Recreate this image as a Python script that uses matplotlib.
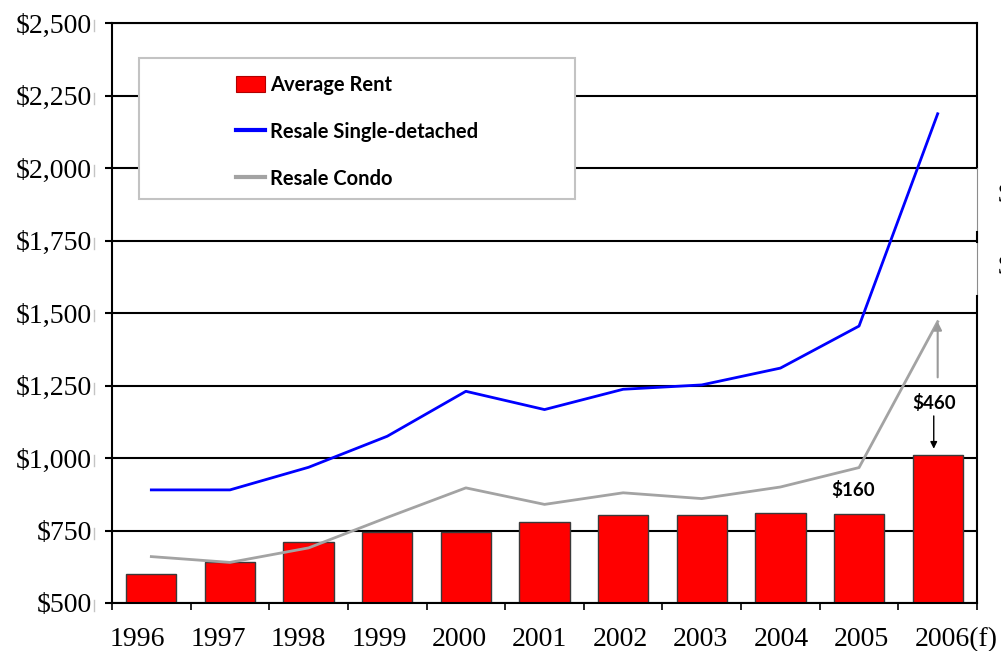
import matplotlib
matplotlib.use("Agg")
import matplotlib.pyplot as plt
import matplotlib.transforms as mtransforms
from matplotlib.patches import Rectangle, Patch
from matplotlib.lines import Line2D
import numpy as np

# ---- data -------------------------------------------------------------
years = ["1996", "1997", "1998", "1999", "2000", "2001",
         "2002", "2003", "2004", "2005", "2006(f)"]
avg_rent = [600, 640, 710, 745, 745, 780, 805, 805, 810, 807, 1010]
resale_single = [890, 890, 968, 1075, 1230, 1167, 1237, 1252, 1310, 1455, 2187]
resale_condo = [660, 640, 690, 795, 897, 840, 880, 860, 900, 967, 1470]

y_ticks = [500, 750, 1000, 1250, 1500, 1750, 2000, 2250, 2500]
y_tick_labels = ["$500", "$750", "$1,000", "$1,250", "$1,500",
                 "$1,750", "$2,000", "$2,250", "$2,500"]

series_names = ["Average Rent", "Resale Single-detached", "Resale Condo"]

# ---- style ------------------------------------------------------------
RED = "#ff0000"
BLUE = "#0000ff"
GREY = "#a3a3a3"
SERIF = "Liberation Serif"
SANS = "Lato"

W, H = 1001, 651
fig = plt.figure(figsize=(W / 100, H / 100), dpi=100)
ax = fig.add_axes([112 / W, 1 - 603 / H, 865 / W, 580 / H])

x = np.arange(len(years))
ax.set_xlim(-0.5, len(years) - 0.5)
ax.set_ylim(y_ticks[0], y_ticks[-1])

# horizontal rules
for yv in y_ticks:
    ax.axhline(yv, color="black", lw=1.5, zorder=0)

# bars and lines
ax.bar(x, avg_rent, width=0.64, bottom=0, color=RED,
       edgecolor="#3a3a3a", lw=1.0, zorder=2)
ax.plot(x, resale_single, color=BLUE, lw=2, zorder=3)
ax.plot(x, resale_condo, color=GREY, lw=2, zorder=3)

# y axis
ax.set_yticks(y_ticks, y_tick_labels)
ax.tick_params(axis="y", which="major", direction="out", length=5,
               width=1.5, pad=9.4, labelsize=20)
for lbl in ax.get_yticklabels():
    lbl.set_fontfamily(SERIF)

# faint marks to the right of the y labels
for yv in y_ticks:
    ax.plot([-0.0205, -0.0205], [yv - 28, yv + 10],
            transform=ax.get_yaxis_transform(), color="#c4c4c4",
            lw=1.0, clip_on=False, zorder=1)

# x axis: labels under the categories, ticks at category boundaries
ax.set_xticks(x, years)
ax.set_xticks(np.arange(-0.5, len(years)), minor=True)
ax.tick_params(axis="x", which="major", length=0, pad=17, labelsize=20)
ax.tick_params(axis="x", which="minor", direction="out", length=5,
               width=1.2, color="black")
for i, lbl in enumerate(ax.get_xticklabels()):
    lbl.set_fontfamily(SERIF)
    lbl.set_horizontalalignment("left")
    dx = (-41.3 + 1.8 * i) / 100.0
    lbl.set_transform(lbl.get_transform() +
                      mtransforms.ScaledTranslation(dx, 0, fig.dpi_scale_trans))

# spines
for side in ("left", "bottom", "top"):
    ax.spines[side].set_linewidth(1.5)
    ax.spines[side].set_color("black")
ax.spines["right"].set_visible(False)
right = len(years) - 0.5
ax.plot([right, right], [2000, 2500], color="black", lw=1.5,
        clip_on=False, zorder=4)
ax.plot([right, right], [1558, 2000], color="#8c8c8c", lw=0.8,
        clip_on=False, zorder=4)
ax.plot([right, right], [1745, 1780], color="black", lw=1.5,
        clip_on=False, zorder=4)
ax.plot([right, right], [500, 1558], color="black", lw=1.5,
        clip_on=False, zorder=4)
for ypx in (196, 267):
    fig.text(997.5 / W, 1 - ypx / H, "$", fontfamily=SERIF, fontsize=20,
             ha="left", va="center")

# legend box
fig.patches.append(Rectangle((139 / W, 1 - 199 / H), 436 / W, 141 / H,
                             transform=fig.transFigure, facecolor="white",
                             edgecolor="#c3c3c3", lw=1.5, zorder=10))
handles = [Patch(facecolor=RED, edgecolor="#b00000", lw=0.8),
           Line2D([], [], color=BLUE, lw=3),
           Line2D([], [], color=GREY, lw=3)]
leg = fig.legend(handles, series_names, loc="upper left",
                 bbox_to_anchor=(236 / W, 1 - 75 / H),
                 frameon=False, borderpad=0, borderaxespad=0,
                 handlelength=1.45, handleheight=0.85, handletextpad=0.25,
                 labelspacing=1.33,
                 prop={"family": SANS, "weight": "bold", "size": 14.5})
leg.set_zorder(11)

# gap annotations (condo price vs. rent)
gap_2005 = resale_condo[9] - avg_rent[9]
gap_2006 = resale_condo[10] - avg_rent[10]
ax.text(8.93, 888, f"${gap_2005:.0f}", ha="center", va="center",
        fontfamily=SANS, fontweight="bold", fontsize=13.5, zorder=5)
ax.text(9.95, 1190, f"${gap_2006:.0f}", ha="center", va="center",
        fontfamily=SANS, fontweight="bold", fontsize=13.5, zorder=5)
ax.annotate("", xy=(10, resale_condo[10]), xytext=(10, 1278),
            arrowprops=dict(arrowstyle="-|>", color="#9a9a9a", lw=1.5,
                            shrinkA=0, shrinkB=0, mutation_scale=12),
            zorder=5)
ax.annotate("", xy=(9.95, avg_rent[10] + 22), xytext=(9.95, 1145),
            arrowprops=dict(arrowstyle="-|>", color="black", lw=1.0,
                            shrinkA=0, shrinkB=0, mutation_scale=10),
            zorder=5)

fig.savefig("out.png", dpi=100)
